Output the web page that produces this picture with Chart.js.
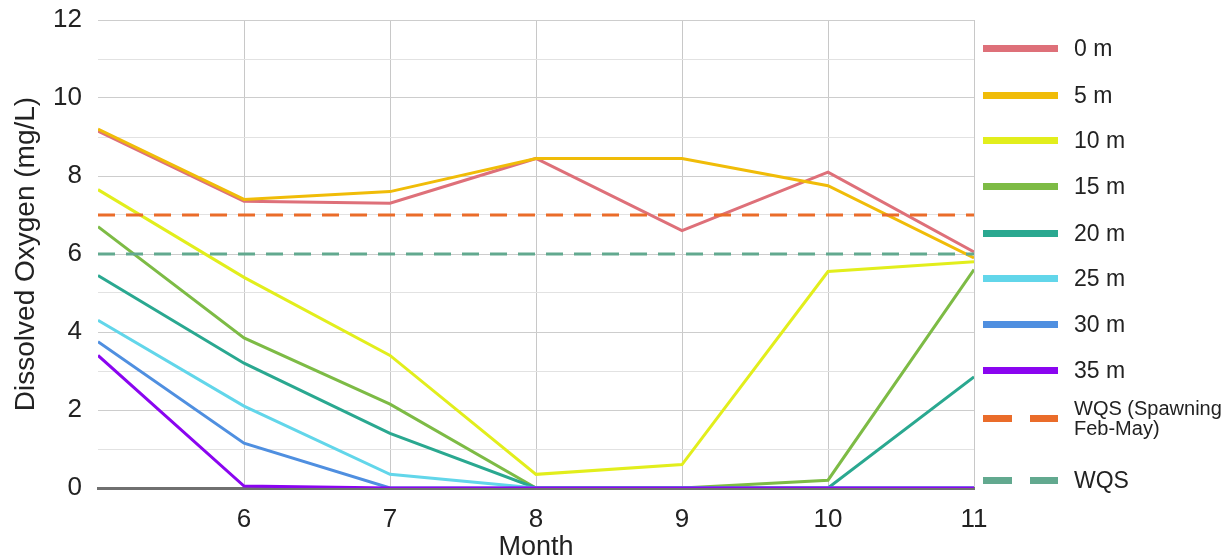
<!DOCTYPE html>
<html>
<head>
<meta charset="utf-8">
<script src="https://cdn.jsdelivr.net/npm/chart.js@4.4.0/dist/chart.umd.min.js"></script>
<style>
    body { margin: 0; background: #fff; font-family: "Liberation Sans", Arial, sans-serif; }
    #wrap { position: relative; width: 1231px; height: 559px; }
    #legenda { position: absolute; left: 983px; top: 0; }
    .item { position: absolute; left: 0; height: 40px; display: flex; align-items: center; white-space: nowrap; }
    .amostra { width: 75px; height: 7px; margin-right: 16px; }
    .texto { font-size: 23px; color: #222; }
    .texto.pequeno { font-size: 20px; line-height: 20px; }
</style>
</head>
<body>
<div id="wrap">
    <canvas id="graficoOxigenio" width="1231" height="559"></canvas>
    <div id="legenda"></div>
</div>
<script>
// meses (eixo x)
const meses = [5, 6, 7, 8, 9, 10, 11];

// oxigenio dissolvido por profundidade (mg/L)
const prof0 = [9.15, 7.35, 7.3, 8.45, 6.6, 8.1, 6.05];
const prof5 = [9.2, 7.4, 7.6, 8.45, 8.45, 7.75, 5.9];
const prof10 = [7.65, 5.4, 3.4, 0.35, 0.6, 5.55, 5.8];
const prof15 = [6.7, 3.85, 2.15, 0, 0, 0.2, 5.6];
const prof20 = [5.45, 3.2, 1.4, 0, 0, 0, 2.85];
const prof25 = [4.3, 2.1, 0.35, 0, 0, 0, 0];
const prof30 = [3.75, 1.15, 0, 0, 0, 0, 0];
const prof35 = [3.4, 0.05, 0, 0, 0, 0, 0];

// padroes de qualidade da agua
const wqsDesova = [7, 7, 7, 7, 7, 7, 7];
const wqs = [6, 6, 6, 6, 6, 6, 6];

const nomes = ['0 m', '5 m', '10 m', '15 m', '20 m', '25 m', '30 m', '35 m', 'WQS (Spawning\nFeb-May)', 'WQS'];

const fonte = '"Liberation Sans", Arial, sans-serif';

function pontos(valores) {
    return valores.map((v, i) => ({ x: meses[i], y: v }));
}

function linha(label, valores, cor, tracejado) {
    return {
        label: label,
        data: pontos(valores),
        borderColor: cor,
        backgroundColor: cor,
        borderWidth: 3,
        borderDash: tracejado ? [17, 11] : [],
        pointRadius: 0,
        tension: 0,
        fill: false
    };
}

const datasets = [
    linha(nomes[8], wqsDesova, '#ea6c2a', true),
    linha(nomes[9], wqs, '#62a98f', true),
    linha(nomes[7], prof35, '#8a05f0', false),
    linha(nomes[6], prof30, '#4f8fe0', false),
    linha(nomes[5], prof25, '#62d6ea', false),
    linha(nomes[4], prof20, '#2aa890', false),
    linha(nomes[3], prof15, '#7dbb45', false),
    linha(nomes[2], prof10, '#e2ee1c', false),
    linha(nomes[1], prof5, '#f0bc08', false),
    linha(nomes[0], prof0, '#de7079', false)
];

const ctx = document.getElementById('graficoOxigenio').getContext('2d');

new Chart(ctx, {
    type: 'line',
    data: { datasets: datasets },
    options: {
        responsive: false,
        animation: false,
        layout: { padding: { top: 20, right: 257, left: 9, bottom: 0 } },
        plugins: {
            legend: { display: false },
            tooltip: { enabled: false }
        },
        scales: {
            x: {
                type: 'linear',
                min: 5,
                max: 11,
                ticks: {
                    stepSize: 1,
                    color: '#222',
                    font: { size: 26, family: fonte },
                    padding: 16,
                    callback: (v) => v === 5 ? '' : v
                },
                grid: {
                    color: (c) => c.tick.value === 5 ? 'rgba(0,0,0,0)' : '#c8c8c8',
                    lineWidth: 1,
                    drawTicks: false
                },
                border: { display: true, color: '#707070', width: 3 },
                title: {
                    display: true,
                    text: 'Month',
                    color: '#222',
                    font: { size: 27, family: fonte, lineHeight: 1 },
                    padding: { top: 0, bottom: -2 }
                },
                afterFit: (scale) => { scale.height = 71; }
            },
            y: {
                min: 0,
                max: 12,
                ticks: {
                    stepSize: 1,
                    color: '#222',
                    font: { size: 26, family: fonte },
                    padding: 16,
                    callback: (v) => v % 2 === 0 ? v : ''
                },
                grid: {
                    color: (c) => c.tick.value % 2 === 0 ? '#cdcdcd' : '#e2e2e2',
                    lineWidth: 1,
                    drawTicks: false
                },
                border: { display: false },
                title: {
                    display: true,
                    text: 'Dissolved Oxygen (mg/L)',
                    color: '#222',
                    font: { size: 28, family: fonte, lineHeight: 1.2 },
                    padding: { top: 0, bottom: 0 }
                },
                afterFit: (scale) => {
                    scale.width = 89;
                    scale.paddingTop = 0;
                    scale.paddingBottom = 0;
                }
            }
        }
    }
});

// legenda montada a partir dos datasets, na ordem do grafico original
const centros = [48, 95, 140, 186, 233, 278, 324, 370, 418, 480];
const legenda = document.getElementById('legenda');
nomes.forEach((nome, i) => {
    const ds = datasets.find(d => d.label === nome);
    const item = document.createElement('div');
    item.className = 'item';
    item.style.top = (centros[i] - 20) + 'px';

    const amostra = document.createElement('div');
    amostra.className = 'amostra';
    if (ds.borderDash.length) {
        amostra.style.background = `linear-gradient(to right, ${ds.borderColor} 0 29px, transparent 29px 47px, ${ds.borderColor} 47px 75px)`;
    } else {
        amostra.style.background = ds.borderColor;
    }
    const texto = document.createElement('div');
    texto.className = 'texto' + (i === 8 ? ' pequeno' : '');
    texto.innerHTML = nome.replace('\n', '<br>');
    item.appendChild(amostra);
    item.appendChild(texto);
    legenda.appendChild(item);
});
</script>
</body>
</html>
